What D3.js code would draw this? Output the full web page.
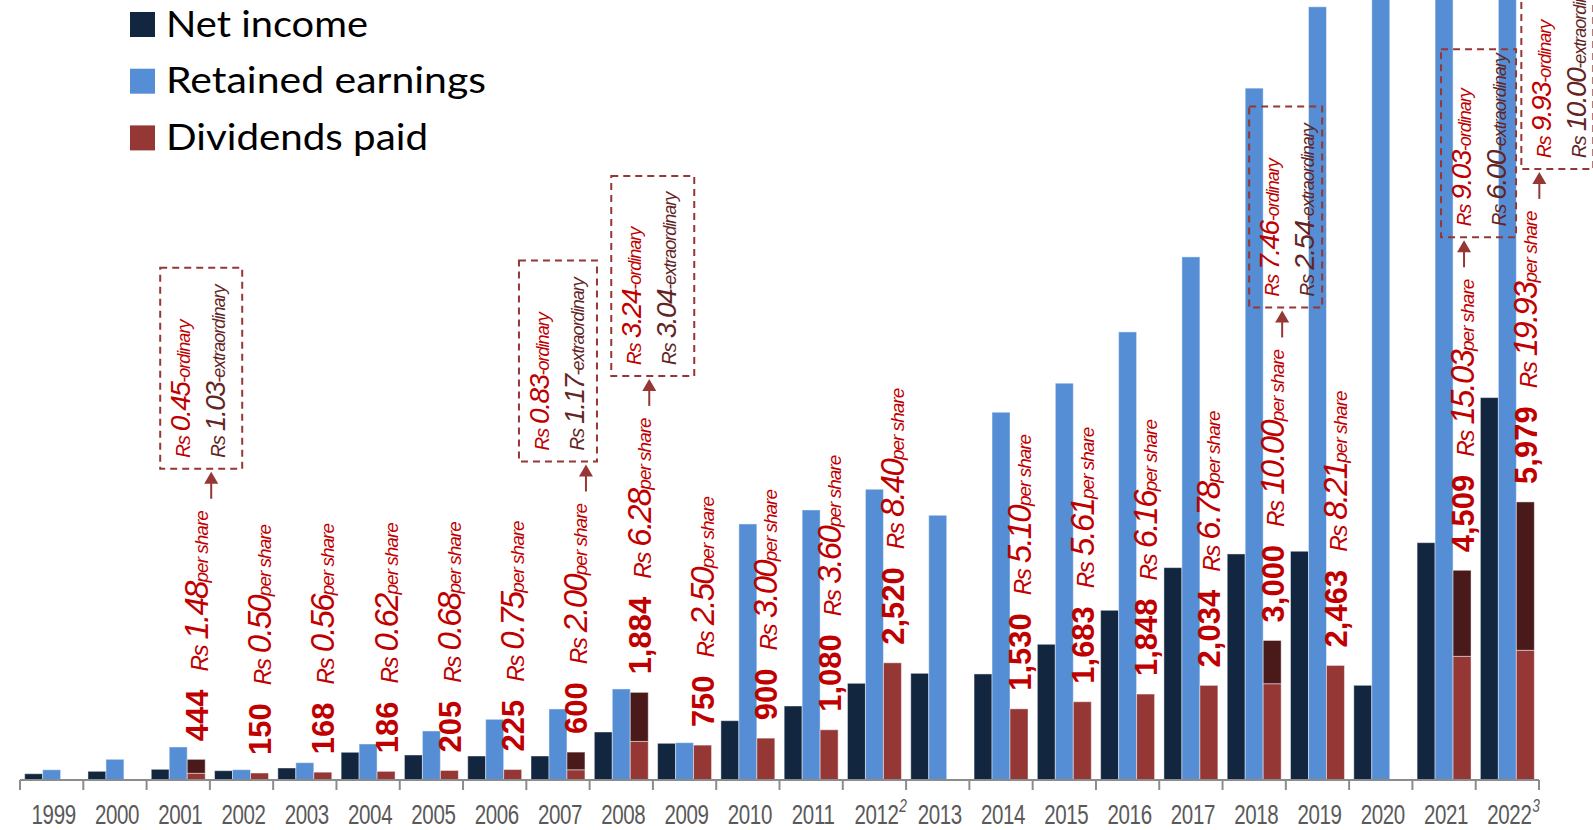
<!DOCTYPE html>
<html><head><meta charset="utf-8">
<script src="https://cdn.jsdelivr.net/npm/d3@7"></script>
<style>body{margin:0;background:#fff;overflow:hidden}svg{display:block}</style>
</head><body>
<svg id="c" width="1593" height="830"></svg>
<script>
// ---------- data ----------
const years = ["1999","2000","2001","2002","2003","2004","2005","2006","2007","2008","2009","2010",
               "2011","2012","2013","2014","2015","2016","2017","2018","2019","2020","2021","2022"];
const yearSup = ["","","","","","","","","","","","","","2","","","","","","","","","","3"];
const netIncome = [135,187,230,200,258,596,538,516,516,1032,789,1275,1591,2079,2294,2280,2918,3649,4566,4860,4918,2036,5103,8222];
const retainedEarnings = [220,445,710,222,372,774,1054,1305,1527,1957,802,5505,5806,6251,5692,7907,8531,9634,11247,14875,16624,18500,20500,22500];
const dividendsPaid = [null,null,444,150,168,186,205,225,600,1884,750,900,1080,2520,null,1530,1683,1848,2034,3000,2463,null,4509,5979];
const dividendsExtra = [0,0,300,0,0,0,0,0,380,1055,0,0,0,0,0,0,0,0,0,930,0,0,1850,3190];
const perShare = ["","","1.48","0.50","0.56","0.62","0.68","0.75","2.00","6.28","2.50","3.00","3.60","8.40","","5.10","5.61","6.16","6.78","10.00","8.21","","15.03","19.93"];
const splitYears = ["2001","2007","2008","2018","2021","2022"];
const splitOrdinary = ["0.45","0.83","3.24","7.46","9.03","9.93"];
const splitExtraordinary = ["1.03","1.17","3.04","2.54","6.00","10.00"];
const seriesNames = ["Net income","Retained earnings","Dividends paid"];

// ---------- layout / style ----------
const boxLayout = [
  {dx:-36, w:82, h:201, arrow:15},
  {dx:-57, w:78, h:201, arrow:10},
  {dx:-28, w:83, h:200, arrow:10},
  {dx:-23, w:73, h:201, arrow:10},
  {dx:-21, w:75, h:188, arrow:2},
  {dx:-4,  w:72, h:200, arrow:14}
];
const legendWidths = [202,320,262];
const C = {net:"#12263f", ret:"#558ed5", div:"#953735", extra:"#4a1a1a", lab:"#c00000", exText:"#632523", axis:"#8c8c8c", tick:"#595959"};
const FONT = "'Liberation Sans', Arial, sans-serif";

const svg = d3.select("#c");
const x = d3.scaleBand().domain(years).range([20,1539]).padding(0);
const sub = d3.scaleBand().domain(["net","ret","div"]).range([0,x.bandwidth()]).paddingInner(0).paddingOuter(0.26);
const y = d3.scaleLinear().domain([0,16770]).range([780,0]);
const fmt = d3.format(",");

// ---------- bars ----------
const bars = svg.append("g").attr("stroke","#ffffff").attr("stroke-opacity",0.45).attr("stroke-width",1);
years.forEach((yr,i)=>{
  const x0 = x(yr);
  bars.append("rect").attr("x",x0+sub("net")).attr("width",sub.bandwidth())
    .attr("y",y(netIncome[i])).attr("height",y(0)-y(netIncome[i])).attr("fill",C.net);
  bars.append("rect").attr("x",x0+sub("ret")).attr("width",sub.bandwidth())
    .attr("y",y(retainedEarnings[i])).attr("height",y(0)-y(retainedEarnings[i])).attr("fill",C.ret);
  if(dividendsPaid[i]!=null){
    const ord = dividendsPaid[i]-dividendsExtra[i];
    bars.append("rect").attr("x",x0+sub("div")).attr("width",sub.bandwidth())
      .attr("y",y(ord)).attr("height",y(0)-y(ord)).attr("fill",C.div);
    if(dividendsExtra[i]>0){
      bars.append("rect").attr("x",x0+sub("div")).attr("width",sub.bandwidth())
        .attr("y",y(dividendsPaid[i])).attr("height",y(ord)-y(dividendsPaid[i])).attr("fill",C.extra);
    }
  }
});

// ---------- axis ----------
const ax = svg.append("g");
const [r0,r1] = x.range();
ax.append("line").attr("x1",r0).attr("x2",r1).attr("y1",y(0)).attr("y2",y(0)).attr("stroke",C.axis).attr("stroke-width",2);
years.concat(["end"]).forEach(d=>{
  const xx = d==="end"? r1 : x(d);
  ax.append("line").attr("x1",xx).attr("x2",xx).attr("y1",y(0)).attr("y2",y(0)+10).attr("stroke",C.axis).attr("stroke-width",2);
});
years.forEach((yr,i)=>{
  const cx = x(yr)+x.bandwidth()/2+2;
  const g = ax.append("g").attr("transform",`translate(${cx},824) scale(0.76,1)`);
  g.append("text").attr("text-anchor","middle").attr("font-family",FONT).attr("font-size",27)
    .attr("fill",C.tick).attr("letter-spacing",-0.5).text(yr);
  if(yearSup[i]){
    g.append("text").attr("x",30).attr("y",-12).attr("font-family",FONT).attr("font-size",18)
      .attr("font-style","italic").attr("fill",C.tick).text(yearSup[i]);
  }
});

// ---------- dividend labels ----------
const lab = svg.append("g").attr("font-family",FONT).attr("fill",C.lab);
const labelEnd = {};
years.forEach((yr,i)=>{
  if(dividendsPaid[i]==null) return;
  const cx = x(yr)+sub("div")+sub.bandwidth()/2;
  const sy = y(dividendsPaid[i])-18;
  const t = lab.append("text").attr("transform",`translate(${cx+11.5},${sy}) rotate(-90)`);
  t.append("tspan").attr("font-weight","bold").attr("font-size",31).text(fmt(dividendsPaid[i]));
  t.append("tspan").attr("dx",18).attr("font-style","italic").attr("font-size",24).text("₨");
  t.append("tspan").attr("dx",5).attr("font-style","italic").attr("font-size",33).attr("letter-spacing",-1.8).text(perShare[i]);
  t.append("tspan").attr("font-style","italic").attr("font-size",19).attr("letter-spacing",-1).text("per share");
  const bb = t.node().getBBox();
  labelEnd[yr] = {cx, endY: sy-(bb.x+bb.width)};
});

// ---------- ordinary / extraordinary boxes ----------
const ann = svg.append("g").attr("font-family",FONT);
splitYears.forEach((yr,k)=>{
  const L = boxLayout[k], e = labelEnd[yr];
  const axX = e.cx+L.arrow;
  const aBottom = e.endY-12, aTip = aBottom-27;
  ann.append("line").attr("x1",axX).attr("x2",axX).attr("y1",aBottom).attr("y2",aTip+10)
    .attr("stroke",C.div).attr("stroke-width",2);
  ann.append("path").attr("d",`M${axX-7},${aTip+12}L${axX+7},${aTip+12}L${axX},${aTip}Z`).attr("fill",C.div);
  const bBottom = aTip-3, bLeft = e.cx+L.dx;
  ann.append("rect").attr("x",bLeft).attr("y",bBottom-L.h).attr("width",L.w).attr("height",L.h)
    .attr("fill","none").attr("stroke",C.div).attr("stroke-width",2).attr("stroke-dasharray","7,5");
  [[splitOrdinary[k],"-ordinary",C.lab,30],[splitExtraordinary[k],"-extraordinary",C.exText,65]].forEach(([v,s,col,off])=>{
    const t = ann.append("text").attr("transform",`translate(${bLeft+off},${bBottom-11}) rotate(-90)`)
      .attr("fill",col).attr("font-style","italic");
    t.append("tspan").attr("font-size",20).text("₨");
    t.append("tspan").attr("dx",4).attr("font-size",28).attr("letter-spacing",-1.5).text(v);
    t.append("tspan").attr("font-size",18).attr("letter-spacing",-1).text(s);
  });
});

// ---------- legend ----------
const leg = svg.append("g");
[C.net,C.ret,C.div].forEach((c,i)=>{
  const yy = 12+i*56.7;
  leg.append("rect").attr("x",130).attr("y",yy).attr("width",25).attr("height",25).attr("fill",c);
  leg.append("text").attr("x",166).attr("y",yy+24.5).attr("font-family","Lato, 'Open Sans', sans-serif")
    .attr("font-size",36).attr("fill","#000").attr("textLength",legendWidths[i]).attr("lengthAdjust","spacingAndGlyphs")
    .text(seriesNames[i]);
});
</script>
</body></html>
